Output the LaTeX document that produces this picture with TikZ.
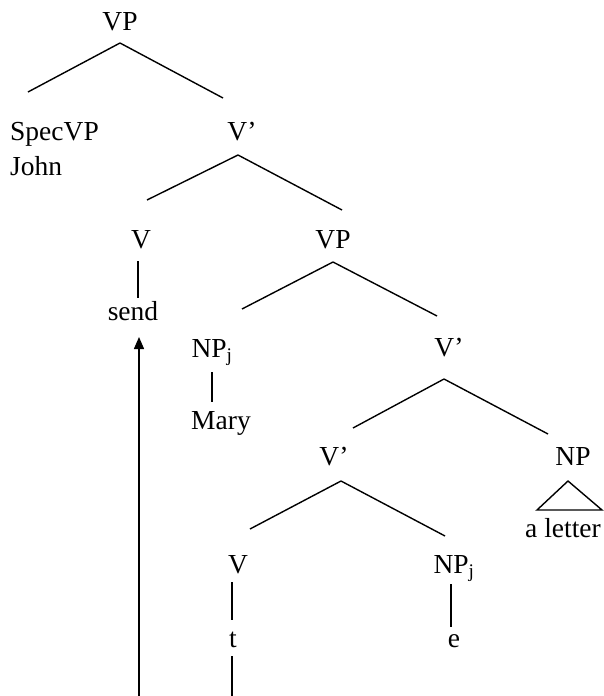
\documentclass[tikz,border=0pt]{standalone}
\usepackage{fontspec}
\setmainfont{Liberation Serif}
\usetikzlibrary{arrows.meta}
\begin{document}
\begin{tikzpicture}[x=1pt,y=-1pt,
  lbl/.style={inner sep=0pt,anchor=base,font=\fontsize{27.5}{32}\selectfont},
  br/.style={line width=1.4pt}]
 \useasboundingbox (0,0) rectangle (603,696);
 % labels
 \node[lbl] (vp) at (120,30) {VP};
 \node[lbl,anchor=base west] (spec) at (10,140) {SpecVP};
 \node[lbl,anchor=base west] (john) at (10,175) {John};
 \node[lbl] (vbar1) at (242,140) {V’};
 \node[lbl] (v1) at (141,248) {V};
 \node[lbl] (vp2) at (333,248) {VP};
 \node[lbl] (send) at (133,320) {send};
 \node[lbl] (npj1) at (212,357) {NP\textsubscript{j}};
 \node[lbl] (mary) at (221,429) {Mary};
 \node[lbl] (vbar2) at (449,356) {V’};
 \node[lbl] (vbar3) at (334,465) {V’};
 \node[lbl] (np) at (573,465) {NP};
 \node[lbl] (letter) at (563,537) {a letter};
 \node[lbl] (v2) at (238,573) {V};
 \node[lbl] (npj2) at (454,573) {NP\textsubscript{j}};
 \node[lbl] (t) at (233,647) {t};
 \node[lbl] (e) at (454,647) {e};
 \coordinate (tend) at (232,696);
 \coordinate (arrstart) at (139,696);
 % branches
 \draw[br] ([yshift=-13pt]vp.base) -- ([xshift=18pt,yshift=48pt]spec.base west);
 \draw[br] ([yshift=-13pt]vp.base) -- ([xshift=-19pt,yshift=42pt]vbar1.base);
 \draw[br] ([xshift=-4pt,yshift=-15pt]vbar1.base) -- ([xshift=6pt,yshift=48pt]v1.base);
 \draw[br] ([xshift=-4pt,yshift=-15pt]vbar1.base) -- ([xshift=9pt,yshift=38pt]vp2.base);
 \draw[br] ([xshift=-3pt,yshift=-13pt]v1.base) -- ([xshift=5pt,yshift=22pt]send.base);
 \draw[br] ([yshift=-14pt]vp2.base) -- ([xshift=30pt,yshift=48pt]npj1.base);
 \draw[br] ([yshift=-14pt]vp2.base) -- ([xshift=-12pt,yshift=40pt]vbar2.base);
 \draw[br] ([yshift=-15pt]npj1.base) -- ([xshift=-9pt,yshift=27pt]mary.base);
 \draw[br] ([xshift=-5pt,yshift=-23pt]vbar2.base) -- ([xshift=19pt,yshift=37pt]vbar3.base);
 \draw[br] ([xshift=-5pt,yshift=-23pt]vbar2.base) -- ([xshift=-25pt,yshift=31pt]np.base);
 \draw[br] ([xshift=7pt,yshift=-16pt]vbar3.base) -- ([xshift=12pt,yshift=44pt]v2.base);
 \draw[br] ([xshift=7pt,yshift=-16pt]vbar3.base) -- ([xshift=-9pt,yshift=37pt]npj2.base);
 \draw[br] ([xshift=-5pt,yshift=-16pt]np.base) -- ([xshift=-26pt,yshift=27pt]letter.base)
   -- ([xshift=39pt,yshift=27pt]letter.base) -- cycle;
 \draw[br] ([xshift=-6pt,yshift=-9pt]v2.base) -- ([xshift=-1pt,yshift=27pt]t.base);
 \draw[br] ([xshift=-1pt,yshift=-9pt]t.base) -- (tend);
 \draw[br] ([xshift=-3pt,yshift=-11pt]npj2.base) -- ([xshift=-3pt,yshift=20pt]e.base);
 % movement arrow
 \draw[br,-{Triangle[width=10pt,length=12pt]}] (arrstart) -- ([xshift=6pt,yshift=-17pt]send.base);
\end{tikzpicture}
\end{document}
